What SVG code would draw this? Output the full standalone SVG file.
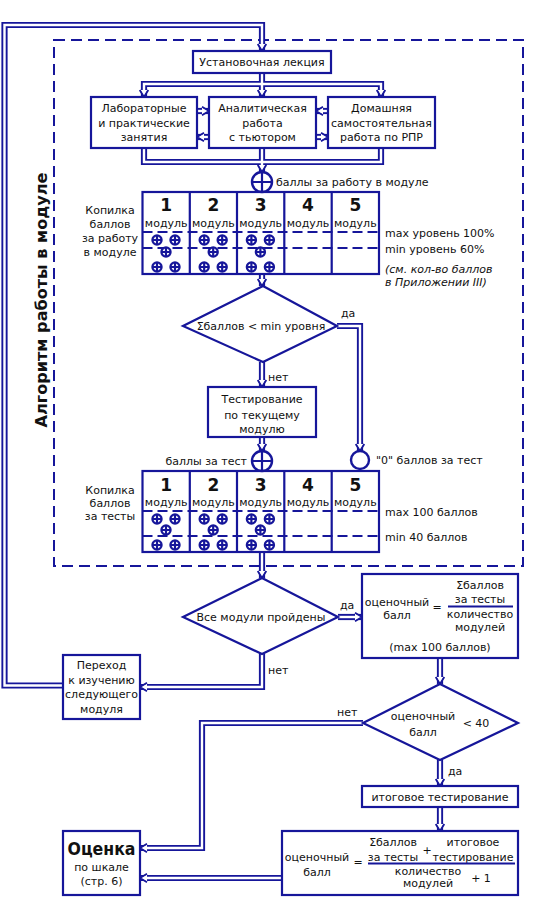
<svg xmlns="http://www.w3.org/2000/svg" width="533" height="905" viewBox="0 0 533 905">
<style>
.o{fill:none;stroke:#16169a;stroke-width:6.2;stroke-linejoin:miter}
.i{fill:none;stroke:#fff;stroke-width:2.4;stroke-linejoin:miter}
.a{marker-end:url(#ah)}
.aa{marker-start:url(#ah);marker-end:url(#ah)}
.bx{fill:#fff;stroke:#16169a;stroke-width:2.2}
.frame{fill:none;stroke:#16169a;stroke-width:2;stroke-dasharray:11 6}
.td{fill:none;stroke:#16169a;stroke-width:2;stroke-dasharray:10 5}
.tl{fill:none;stroke:#16169a;stroke-width:2.2}
.cir{fill:#fff;stroke:#16169a;stroke-width:2.4}
text{font-family:"DejaVu Sans","Noto Sans",sans-serif;font-size:11px;fill:#111}
.c{text-anchor:middle}
.num{font-size:17px;font-weight:bold;text-anchor:middle}
.it{font-style:italic}
.b{font-weight:bold}
.vt{font-size:15px;font-weight:bold;text-anchor:middle}
.big{font-size:18px;font-weight:bold;text-anchor:middle}
</style>
<defs>
<marker id="ah" markerUnits="userSpaceOnUse" orient="auto-start-reverse" refX="0" refY="0" markerWidth="10" markerHeight="10" overflow="visible">
<polygon points="-7,-3.4 0,0 -7,3.4" fill="#fff"/>
<polyline points="-7,-4.3 0,0 -7,4.3" fill="none" stroke="#16169a" stroke-width="1.8"/>
</marker>
<g id="sp"><circle r="4.6" fill="#fff" stroke="#16169a" stroke-width="2.2"/><path d="M-4.6,0H4.6M0,-4.6V4.6" stroke="#16169a" stroke-width="2.2"/></g>
<g id="p5"><use href="#sp" x="-9" y="0"/><use href="#sp" x="9" y="0"/><use href="#sp" x="0" y="12"/><use href="#sp" x="-9" y="27"/><use href="#sp" x="9" y="27"/></g>
<g id="p5b"><use href="#sp" x="-9" y="0"/><use href="#sp" x="9" y="0"/><use href="#sp" x="0" y="11"/><use href="#sp" x="-9" y="26"/><use href="#sp" x="9" y="26"/></g>
</defs>
<rect width="533" height="905" fill="#fff"/>

<rect class="frame" x="54" y="40" width="469" height="526"/>
<text class="vt" transform="translate(46.5,300) rotate(-90)" textLength="255" lengthAdjust="spacingAndGlyphs">Алгоритм работы в модуле</text>

<g id="connectors">
<path class="o" d="M63,685.5H4.5V25H262V51"/>
<path class="o" d="M262,73V97"/>
<path class="o" d="M144,97V84H381V97"/>
<path class="o" d="M144,148V162H381V148"/>
<path class="o" d="M262,148V172"/>
<path class="o" d="M197,111H209"/>
<path class="o" d="M209,137H197"/>
<path class="o" d="M328,111H316"/>
<path class="o" d="M316,137H328"/>
<path class="o" d="M262,274V286"/>
<path class="o" d="M337,326H360V451"/>
<path class="o" d="M262,362V387"/>
<path class="o" d="M262,437V451"/>
<path class="o" d="M262,552V578"/>
<path class="o" d="M338,617H362"/>
<path class="o" d="M262,654V687H140"/>
<path class="o" d="M440,658V684"/>
<path class="o" d="M363,723H202V848H140"/>
<path class="o" d="M440,760V786"/>
<path class="o" d="M440,807V831"/>
<path class="o" d="M282,878H140"/>

<path class="i a" d="M63,685.5H4.5V25H262V51"/>
<path class="i a" d="M262,73V97"/>
<path class="i aa" d="M144,97V84H381V97"/>
<path class="i" d="M144,148V162H381V148"/>
<path class="i a" d="M262,148V172"/>
<path class="i a" d="M197,111H209"/>
<path class="i a" d="M209,137H197"/>
<path class="i a" d="M328,111H316"/>
<path class="i a" d="M316,137H328"/>
<path class="i a" d="M262,274V286"/>
<path class="i a" d="M337,326H360V451"/>
<path class="i a" d="M262,362V387"/>
<path class="i a" d="M262,437V451"/>
<path class="i a" d="M262,552V578"/>
<path class="i a" d="M338,617H362"/>
<path class="i a" d="M262,654V687H140"/>
<path class="i a" d="M440,658V684"/>
<path class="i a" d="M363,723H202V848H140"/>
<path class="i a" d="M440,760V786"/>
<path class="i a" d="M440,807V831"/>
<path class="i a" d="M282,878H140"/>

<text x="341" y="317">да</text>
<text x="268" y="381">нет</text>
<text x="340" y="609">да</text>
<text x="268" y="674">нет</text>
<text x="337" y="716">нет</text>
<text x="448" y="775">да</text>
</g>

<g id="n_lecture">
<rect class="bx" x="193" y="51" width="138" height="22"/>
<text class="c" x="262" y="66">Установочная лекция</text>
</g>
<g id="n_lab">
<rect class="bx" x="91" y="97" width="106" height="51"/>
<text class="c" x="144" y="112">Лабораторные</text>
<text class="c" x="144" y="127">и практические</text>
<text class="c" x="144" y="141">занятия</text>
</g>
<g id="n_anal">
<rect class="bx" x="209" y="97" width="107" height="51"/>
<text class="c" x="262.5" y="112">Аналитическая</text>
<text class="c" x="262.5" y="127">работа</text>
<text class="c" x="262.5" y="141">с тьютором</text>
</g>
<g id="n_home">
<rect class="bx" x="328" y="97" width="107" height="51"/>
<text class="c" x="381.5" y="112">Домашняя</text>
<text class="c" x="381.5" y="127">самостоятельная</text>
<text class="c" x="381.5" y="141">работа по РПР</text>
</g>

<g id="n_plus1">
<circle class="cir" cx="262" cy="182" r="10"/>
<path class="tl" stroke-width="2.4" d="M252,182H272M262,172V192"/>
<text x="276" y="186">баллы за работу в модуле</text>
</g>

<g id="n_table1">
<text class="c" x="110" y="214">Копилка</text>
<text class="c" x="110" y="228">баллов</text>
<text class="c" x="110" y="242">за работу</text>
<text class="c" x="110" y="256">в модуле</text>
<rect class="tl" x="142.5" y="192" width="236.5" height="82" fill="#fff"/>
<path class="tl" d="M189.8,192V274M237,192V274M284.3,192V274M331.7,192V274"/>
<path class="td" d="M142.5,232H379M142.5,248H379"/>
<text class="num" x="166.2" y="211">1</text>
<text class="num" x="213.4" y="211">2</text>
<text class="num" x="260.6" y="211">3</text>
<text class="num" x="308" y="211">4</text>
<text class="num" x="355.3" y="211">5</text>
<text class="c" x="166.2" y="227">модуль</text>
<text class="c" x="213.4" y="227">модуль</text>
<text class="c" x="260.6" y="227">модуль</text>
<text class="c" x="308" y="227">модуль</text>
<text class="c" x="355.3" y="227">модуль</text>
<use href="#p5" x="166" y="240"/>
<use href="#p5" x="213.2" y="240"/>
<use href="#p5" x="260.4" y="240"/>
<text x="385" y="237">max уровень 100%</text>
<text x="385" y="253">min уровень 60%</text>
<text class="it" x="385" y="273">(см. кол-во баллов</text>
<text class="it" x="385" y="286">в Приложении III)</text>
</g>

<g id="n_dec1">
<polygon class="bx" points="263,286 337,326 263,362 183,326"/>
<text class="c" x="261" y="330">Σбаллов &lt; min уровня</text>
</g>

<g id="n_test">
<rect class="bx" x="208" y="387" width="108" height="50"/>
<text class="c" x="262" y="403">Тестирование</text>
<text class="c" x="262" y="419">по текущему</text>
<text class="c" x="262" y="433">модулю</text>
</g>

<g id="n_plus2">
<circle class="cir" cx="262" cy="461" r="10"/>
<path class="tl" stroke-width="2.4" d="M252,461H272M262,451V471"/>
<text x="247" y="465" text-anchor="end">баллы за тест</text>
</g>
<g id="n_zero">
<circle class="cir" cx="360" cy="460" r="9"/>
<text x="376" y="464">"0" баллов за тест</text>
</g>

<g id="n_table2">
<text class="c" x="110" y="494">Копилка</text>
<text class="c" x="110" y="507">баллов</text>
<text class="c" x="110" y="520">за тесты</text>
<rect class="tl" x="142.5" y="471" width="236.5" height="81" fill="#fff"/>
<path class="tl" d="M189.8,471V552M237,471V552M284.3,471V552M331.7,471V552"/>
<path class="td" d="M142.5,511H379M142.5,536H379"/>
<text class="num" x="166.2" y="491">1</text>
<text class="num" x="213.4" y="491">2</text>
<text class="num" x="260.6" y="491">3</text>
<text class="num" x="308" y="491">4</text>
<text class="num" x="355.3" y="491">5</text>
<text class="c" x="166.2" y="506">модуль</text>
<text class="c" x="213.4" y="506">модуль</text>
<text class="c" x="260.6" y="506">модуль</text>
<text class="c" x="308" y="506">модуль</text>
<text class="c" x="355.3" y="506">модуль</text>
<use href="#p5b" x="166" y="519"/>
<use href="#p5b" x="213.2" y="519"/>
<use href="#p5b" x="260.4" y="519"/>
<text x="385" y="516">max 100 баллов</text>
<text x="385" y="541">min 40 баллов</text>
</g>

<g id="n_dec2">
<polygon class="bx" points="262,578 338,617 262,654 183,617"/>
<text class="c" x="261" y="621">Все модули пройдены</text>
</g>

<g id="n_formula1">
<rect class="bx" x="362" y="574" width="156" height="84"/>
<text class="c" x="397" y="606">оценочный</text>
<text class="c" x="397" y="619">балл</text>
<text class="c" x="437" y="611">=</text>
<text class="c" x="480" y="589">Σбаллов</text>
<text class="c" x="480" y="603">за тесты</text>
<path class="tl" stroke-width="1.3" d="M448,606.5H513"/>
<text class="c" x="480" y="618">количество</text>
<text class="c" x="480" y="631">модулей</text>
<text class="c" x="440" y="651">(max 100 баллов)</text>
</g>

<g id="n_next">
<rect class="bx" x="63" y="655" width="77" height="64"/>
<text class="c" x="101.5" y="669">Переход</text>
<text class="c" x="101.5" y="684">к изучению</text>
<text class="c" x="101.5" y="698">следующего</text>
<text class="c" x="101.5" y="713">модуля</text>
</g>

<g id="n_dec3">
<polygon class="bx" points="440,684 518,723 440,760 363,723"/>
<text class="c" x="423" y="720">оценочный</text>
<text class="c" x="423" y="736">балл</text>
<text class="c" x="476" y="727">&lt; 40</text>
</g>

<g id="n_final_test">
<rect class="bx" x="362" y="786" width="156" height="21"/>
<text class="c" x="440" y="801">итоговое тестирование</text>
</g>

<g id="n_formula2">
<rect class="bx" x="282" y="831" width="236" height="64"/>
<text class="c" x="317" y="861">оценочный</text>
<text class="c" x="317" y="876">балл</text>
<text class="c" x="358" y="866">=</text>
<text class="c" x="393" y="846">Σбаллов</text>
<text class="c" x="393" y="861">за тесты</text>
<text class="c" x="427" y="854">+</text>
<text class="c" x="473" y="846">итоговое</text>
<text class="c" x="473" y="861">тестирование</text>
<path class="tl" stroke-width="1.3" d="M368,863.5H515"/>
<text class="c" x="428" y="875">количество</text>
<text class="c" x="428" y="887">модулей</text>
<text class="c" x="481" y="882">+ 1</text>
</g>

<g id="n_grade">
<rect class="bx" x="63" y="831" width="77" height="64"/>
<text class="big" x="101.5" y="855" textLength="68" lengthAdjust="spacingAndGlyphs">Оценка</text>
<text class="c" x="101.5" y="871">по шкале</text>
<text class="c" x="101.5" y="885">(стр. 6)</text>
</g>
</svg>
